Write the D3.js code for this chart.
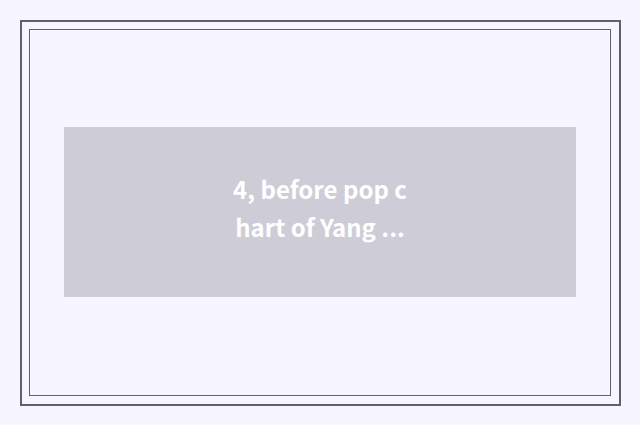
<!DOCTYPE html>
<html>
<head>
<meta charset="utf-8">
<script src="https://cdn.jsdelivr.net/npm/d3@7"></script>
<style>
  html, body { margin: 0; padding: 0; background: #f7f6fe; }
</style>
</head>
<body>
<div id="chart"></div>
<script>
// caption lines shown on the placeholder box
var captionLines = ["4, before pop c", "hart of Yang ..."];

var width = 640, height = 425;

var svg = d3.select("#chart")
    .append("svg")
    .attr("width", width)
    .attr("height", height);

svg.append("rect")
    .attr("width", width)
    .attr("height", height)
    .attr("fill", "#f7f6fe");

// outer frame
svg.append("rect")
    .attr("x", 21).attr("y", 21)
    .attr("width", 599).attr("height", 384)
    .attr("fill", "none")
    .attr("stroke", "#616169")
    .attr("stroke-width", 2);

// inner frame
svg.append("rect")
    .attr("x", 29.5).attr("y", 29.5)
    .attr("width", 581).attr("height", 366)
    .attr("fill", "none")
    .attr("stroke", "#616169")
    .attr("stroke-width", 1);

// grey box
svg.append("rect")
    .attr("x", 64).attr("y", 127)
    .attr("width", 512).attr("height", 170)
    .attr("fill", "#cecdd7");

var y = d3.scalePoint()
    .domain(captionLines)
    .range([199, 237]);

svg.append("g")
    .selectAll("text")
    .data(captionLines)
    .enter()
    .append("text")
    .attr("x", 320)
    .attr("y", function (d) { return y(d); })
    .attr("text-anchor", "middle")
    .style("font-family", "'Noto Sans CJK SC', 'Noto Sans', sans-serif")
    .style("font-weight", "700")
    .style("font-size", "24px")
    .attr("fill", "#ffffff")
    .text(function (d) { return d; });
</script>
</body>
</html>
